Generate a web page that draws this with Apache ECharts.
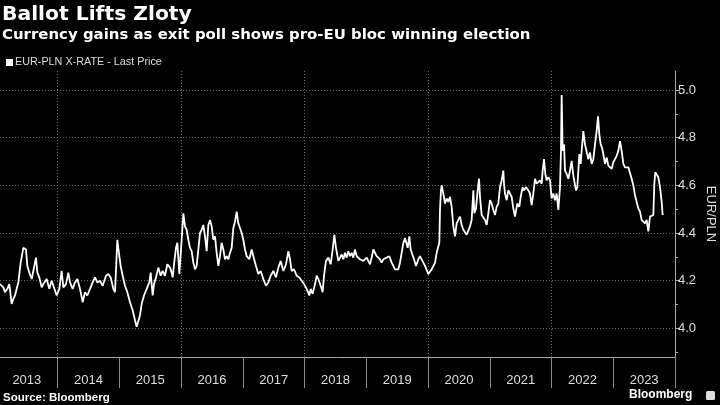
<!DOCTYPE html>
<html>
<head>
<meta charset="utf-8">
<script src="https://cdn.jsdelivr.net/npm/echarts@6/dist/echarts.min.js"></script>
<style>
html,body{margin:0;padding:0;background:#000;}
#c{width:720px;height:405px;}
</style>
</head>
<body>
<div id="c"></div>
<script>
const dates = [
2013.065,2013.119,2013.146,2013.184,2013.216,2013.254,2013.281,2013.308,2013.335,2013.362,
2013.400,2013.443,2013.486,2013.508,2013.540,2013.578,2013.605,2013.648,2013.670,2013.702,
2013.740,2013.767,2013.821,2013.864,2013.902,2013.956,2013.983,2014.026,2014.064,2014.091,
2014.134,2014.172,2014.199,2014.242,2014.280,2014.318,2014.361,2014.404,2014.442,2014.480,
2014.523,2014.566,2014.604,2014.642,2014.685,2014.728,2014.782,2014.820,2014.858,2014.901,
2014.928,2014.966,2014.998,2015.020,2015.052,2015.090,2015.128,2015.171,2015.214,2015.252,
2015.279,2015.306,2015.333,2015.360,2015.398,2015.441,2015.484,2015.506,2015.538,2015.560,
2015.592,2015.630,2015.668,2015.700,2015.738,2015.776,
2015.819,2015.846,2015.862,2015.884,2015.916,2015.938,2015.970,2016.008,2016.035,2016.062,
2016.089,2016.116,2016.143,2016.170,2016.197,2016.224,2016.251,2016.278,2016.305,2016.332,
2016.359,2016.386,2016.413,2016.440,2016.467,2016.494,2016.521,2016.548,2016.575,2016.602,
2016.629,2016.656,2016.683,2016.710,2016.737,2016.764,2016.791,2016.818,2016.845,2016.872,
2016.899,2016.926,2016.953,2016.980,2017.007,2017.034,2017.061,2017.104,2017.142,2017.169,
2017.212,2017.250,2017.288,2017.331,2017.374,2017.412,2017.450,2017.493,2017.536,2017.574,
2017.612,2017.655,2017.698,2017.736,2017.763,2017.790,2017.828,2017.871,2017.914,2017.952,
2017.990,2018.033,2018.076,2018.098,2018.130,2018.168,2018.195,2018.222,2018.260,2018.292,
2018.314,2018.346,2018.384,2018.422,2018.454,2018.481,2018.508,2018.546,
2018.573,2018.600,2018.627,2018.654,2018.681,2018.708,2018.735,2018.762,2018.789,2018.816,
2018.843,2018.870,2018.897,2018.924,2018.951,2018.978,2019.005,2019.032,2019.059,2019.086,
2019.113,2019.140,2019.167,2019.194,2019.221,2019.248,2019.275,2019.329,2019.372,2019.410,
2019.437,2019.464,2019.491,2019.518,2019.545,2019.572,2019.599,2019.626,2019.653,2019.669,
2019.696,2019.718,2019.750,2019.772,2019.804,2019.842,2019.869,2019.896,2019.923,2019.950,
2019.977,2020.004,2020.031,2020.058,2020.085,2020.112,2020.139,2020.166,2020.182,2020.193,
2020.209,2020.220,2020.247,2020.274,2020.301,2020.328,2020.355,2020.382,2020.409,2020.436,
2020.463,2020.490,2020.517,2020.544,2020.571,2020.598,2020.625,2020.652,2020.679,2020.706,
2020.733,2020.749,2020.776,2020.803,2020.825,2020.841,2020.868,2020.895,2020.922,2020.949,
2020.976,2021.003,2021.030,2021.057,2021.084,2021.111,2021.138,
2021.165,2021.192,2021.219,2021.230,2021.246,2021.273,2021.300,2021.327,2021.354,2021.381,
2021.408,2021.424,2021.446,2021.478,2021.500,2021.532,2021.554,2021.586,2021.624,2021.651,
2021.678,2021.705,2021.732,2021.759,2021.786,2021.813,2021.840,2021.856,2021.878,2021.899,
2021.921,2021.948,2021.975,2022.002,2022.029,2022.056,2022.083,2022.110,2022.137,2022.153,
2022.164,2022.180,2022.202,2022.218,2022.245,2022.272,2022.299,2022.326,2022.353,2022.380,
2022.396,2022.418,2022.450,2022.472,2022.488,2022.515,2022.542,2022.569,2022.596,2022.623,
2022.650,2022.677,2022.704,2022.731,2022.753,2022.774,2022.796,2022.817,2022.839,2022.866,
2022.893,2022.920,2022.947,2022.974,2023.001,2023.028,2023.055,2023.082,2023.109,2023.136,
2023.163,2023.190,2023.217,2023.244,2023.271,2023.298,2023.325,2023.352,2023.379,2023.406,
2023.433,2023.460,2023.487,2023.514,2023.541,2023.568,2023.595,2023.622,2023.649,2023.665,
2023.681,2023.703,2023.730,2023.757,2023.784,2023.800
];
// EUR/PLN last price
const eurpln = [
4.186,4.172,4.152,4.166,4.186,4.103,4.124,4.138,4.166,4.193,
4.276,4.338,4.331,4.262,4.234,4.207,4.241,4.297,4.234,4.214,
4.172,4.186,4.207,4.166,4.200,4.159,4.138,4.166,4.241,4.172,
4.186,4.234,4.193,4.166,4.193,4.207,4.166,4.110,4.152,4.138,
4.166,4.193,4.214,4.193,4.200,4.179,4.221,4.228,4.214,4.166,
4.152,4.372,4.303,4.262,4.221,4.179,4.152,4.110,4.076,4.034,
4.007,4.014,4.055,4.103,4.138,4.166,4.193,4.234,4.138,4.186,
4.214,4.255,4.221,4.241,4.221,4.269,
4.255,4.234,4.214,4.269,4.338,4.359,4.228,4.372,4.483,4.428,
4.414,4.372,4.338,4.324,4.276,4.248,4.262,4.269,4.400,4.414,
4.434,4.386,4.324,4.434,4.455,4.428,4.372,4.386,4.317,4.262,
4.303,4.359,4.331,4.290,4.303,4.290,4.317,4.338,4.421,4.448,
4.490,4.441,4.421,4.400,4.372,4.331,4.303,4.290,4.331,4.303,
4.262,4.228,4.241,4.207,4.179,4.193,4.221,4.241,4.214,4.255,
4.283,4.241,4.269,4.324,4.290,4.241,4.248,4.221,4.214,4.200,
4.186,4.166,4.138,4.166,4.145,4.186,4.221,4.207,4.179,4.152,
4.221,4.283,4.297,4.269,4.331,4.393,4.338,4.283,
4.276,4.310,4.290,4.317,4.297,4.324,4.303,4.317,4.297,4.331,
4.303,4.297,4.290,4.297,4.283,4.290,4.297,4.283,4.269,4.297,
4.331,4.317,4.303,4.297,4.290,4.276,4.290,4.297,4.303,4.276,
4.262,4.248,4.255,4.248,4.276,4.317,4.359,4.379,4.372,4.338,
4.386,4.331,4.324,4.290,4.262,4.290,4.303,4.310,4.276,4.262,
4.255,4.228,4.221,4.248,4.248,4.276,4.317,4.310,4.359,4.497,
4.579,4.600,4.566,4.524,4.545,4.531,4.552,4.510,4.428,4.386,
4.441,4.455,4.469,4.434,4.414,4.407,4.393,4.393,4.428,4.455,
4.579,4.483,4.503,4.579,4.628,4.552,4.476,4.469,4.455,4.434,
4.483,4.538,4.524,4.497,4.476,4.510,4.524,
4.593,4.621,4.662,4.607,4.566,4.538,4.579,4.566,4.552,4.503,
4.469,4.462,4.524,4.510,4.552,4.593,4.579,4.593,4.579,4.566,
4.517,4.566,4.628,4.607,4.600,4.621,4.607,4.662,4.710,4.648,
4.621,4.634,4.621,4.545,4.566,4.538,4.566,4.497,4.593,4.745,
4.979,4.745,4.772,4.662,4.648,4.628,4.662,4.703,4.641,4.634,
4.579,4.593,4.731,4.690,4.745,4.828,4.772,4.779,4.710,4.738,
4.690,4.710,4.772,4.828,4.890,4.814,4.772,4.759,4.731,4.690,
4.717,4.683,4.690,4.669,4.697,4.690,4.724,4.745,4.786,4.745,
4.690,4.676,4.683,4.676,4.669,4.628,4.600,4.559,4.531,4.503,
4.490,4.455,4.462,4.441,4.455,4.407,4.469,4.476,4.476,4.607,
4.655,4.662,4.634,4.593,4.531,4.476
];
const yearBoundaries = [2014,2015,2016,2017,2018,2019,2020,2021,2022,2023,2024];
const gridYears = [2014,2016,2018,2020,2022];
const yearLabels = [2013,2014,2015,2016,2017,2018,2019,2020,2021,2022,2023];
const yMajorTicks = [4.0,4.2,4.4,4.6,4.8,5.0];
const yMinorTicks = [3.9,4.1,4.3,4.5,4.7,4.9];

const seriesData = dates.map((d, i) => [d, eurpln[i]]);
const labelPositions = yearLabels.map(y => y + 0.5);

const chart = echarts.init(document.getElementById('c'), null, {renderer: 'canvas'});
const FONT = 'Liberation Sans';
const HEAD = 'DejaVu Sans';
chart.setOption({
  backgroundColor: '#000',
  animation: false,
  title: [
    {text: 'Ballot Lifts Zloty', left: 2, top: 5, padding: 0,
     textStyle: {color: '#fff', fontSize: 20.3, fontWeight: 'bold', fontFamily: HEAD}},
    {text: 'Currency gains as exit poll shows pro-EU bloc winning election', left: 2, top: 27.5, padding: 0,
     textStyle: {color: '#fff', fontSize: 14.95, fontWeight: 'bold', fontFamily: HEAD}},
    {text: 'Source: Bloomberg', left: 3, top: 392, padding: 0,
     textStyle: {color: '#fff', fontSize: 11.5, fontWeight: 'bold', fontFamily: FONT}},
    {text: 'Bloomberg', left: 629, top: 389, padding: 0,
     textStyle: {color: '#fff', fontSize: 12, fontWeight: 'bold', fontFamily: FONT}}
  ],
  graphic: [
    {type: 'rect', left: 706, top: 391, shape: {width: 9, height: 9, r: 1.5},
     style: {fill: '#ddd'}}
  ],
  legend: {
    left: 1, top: 52, icon: 'rect', itemWidth: 7, itemHeight: 7, itemGap: 10,
    textStyle: {color: '#ddd', fontSize: 10.8, fontFamily: FONT, padding: [0,0,0,-3]},
    data: ['EUR-PLN X-RATE - Last Price']
  },
  grid: {left: 0, right: 45, top: 71, bottom: 48, containLabel: false, outerBoundsMode: 'none'},
  xAxis: [
    {
      type: 'value', min: 2013.065, max: 2024.0, position: 'bottom',
      axisLine: {show: true, lineStyle: {color: '#aaa', width: 1}},
      axisTick: {show: true, customValues: yearBoundaries, length: 31, inside: false,
                 lineStyle: {color: '#888', width: 1}},
      axisLabel: {show: true, customValues: labelPositions, color: '#ddd', fontSize: 13,
                  fontFamily: FONT, margin: 17, formatter: v => String(Math.floor(v))},
      splitLine: {show: false}
    },
    {
      type: 'value', min: 2013.065, max: 2024.0, position: 'bottom',
      axisLine: {show: false},
      axisTick: {show: false, customValues: gridYears},
      axisLabel: {show: false},
      splitLine: {show: true, lineStyle: {color: '#666', type: [1, 2], width: 1}}
    }
  ],
  yAxis: [
    {
      type: 'value', position: 'right', min: 3.88, max: 5.08,
      name: 'EUR/PLN', nameLocation: 'middle', nameRotate: -90, nameGap: 29,
      nameMoveOverlap: false,
      nameTextStyle: {color: '#ddd', fontSize: 13, fontFamily: FONT},
      axisLine: {show: true, lineStyle: {color: '#aaa', width: 1}},
      axisTick: {show: true, customValues: yMajorTicks, length: 5, lineStyle: {color: '#aaa'}},
      axisLabel: {show: true, customValues: yMajorTicks, color: '#ddd', fontSize: 13,
                  fontFamily: FONT, margin: 3, formatter: v => v.toFixed(1)},
      splitLine: {show: true, lineStyle: {color: '#666', type: [1, 2], width: 1}}
    },
    {
      type: 'value', position: 'right', min: 3.88, max: 5.08,
      axisLine: {show: false},
      axisTick: {show: true, customValues: yMinorTicks, length: 3, lineStyle: {color: '#aaa'}},
      axisLabel: {show: false},
      splitLine: {show: false}
    }
  ],
  series: [{
    name: 'EUR-PLN X-RATE - Last Price',
    type: 'line', xAxisIndex: 0, yAxisIndex: 0,
    data: seriesData, showSymbol: false, symbol: 'none',
    itemStyle: {color: '#fff'},
    lineStyle: {color: '#fff', width: 1.8},
    z: 5
  }]
});
</script>
</body>
</html>
